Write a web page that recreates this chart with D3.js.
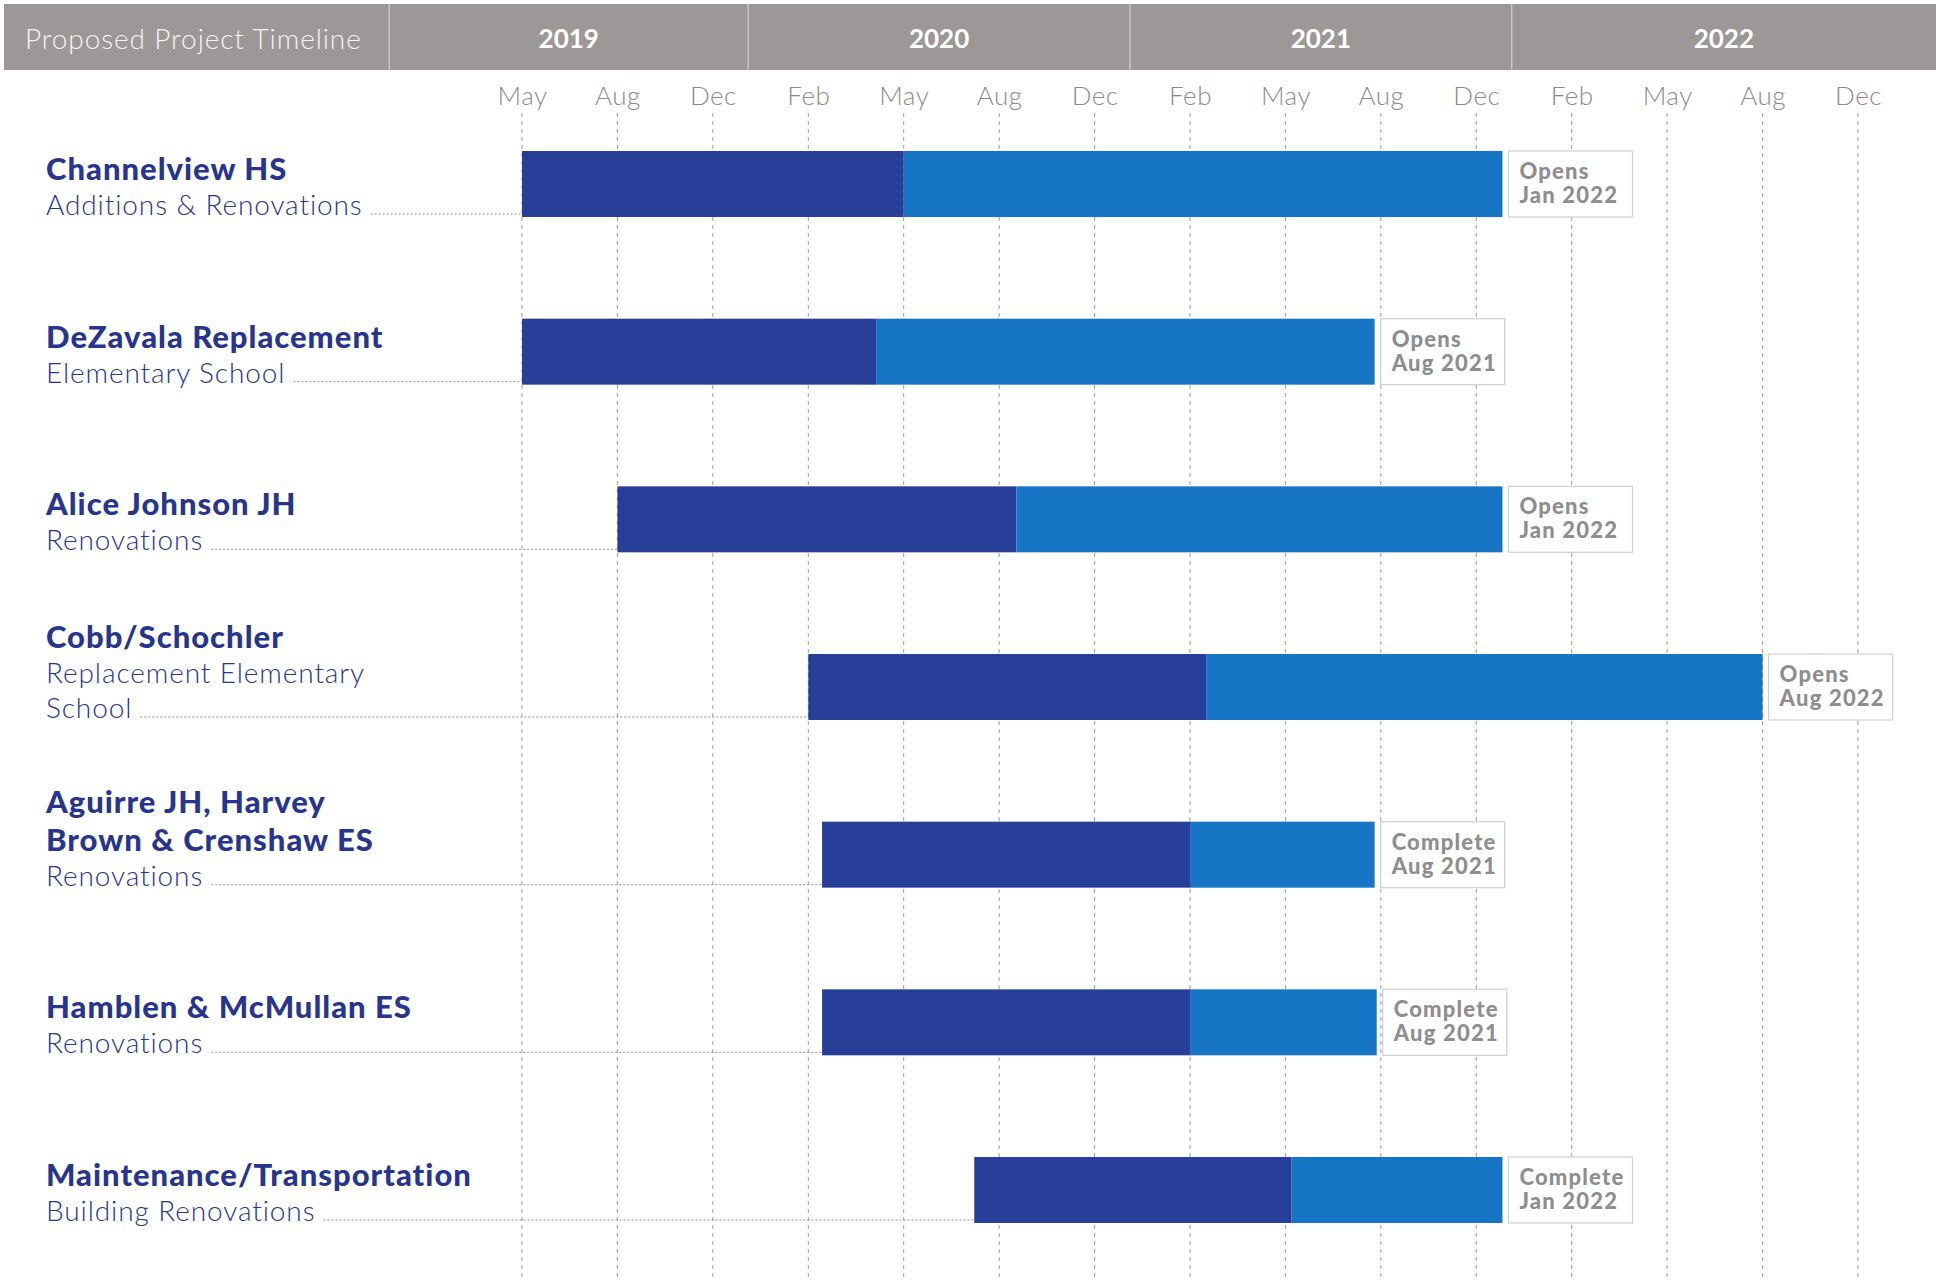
<!DOCTYPE html>
<html>
<head>
<meta charset="utf-8">
<script src="https://cdn.jsdelivr.net/npm/d3@7"></script>
<style>
    body { margin: 0; background: #fff; }
    text { font-family: Lato, "Open Sans", sans-serif; }
</style>
</head>
<body>
<div id="chart"></div>
<script>
// project rows, top to bottom
var projects = ["Channelview HS", "DeZavala Replacement", "Alice Johnson JH", "Cobb/Schochler",
    "Aguirre JH, Harvey Brown & Crenshaw ES", "Hamblen & McMullan ES", "Maintenance/Transportation"];
var titleLines = [["Channelview HS"], ["DeZavala Replacement"], ["Alice Johnson JH"], ["Cobb/Schochler"],
    ["Aguirre JH, Harvey", "Brown & Crenshaw ES"], ["Hamblen & McMullan ES"], ["Maintenance/Transportation"]];
var subLines = [["Additions & Renovations"], ["Elementary School"], ["Renovations"],
    ["Replacement Elementary", "School"], ["Renovations"], ["Renovations"], ["Building Renovations"]];

// dark segment = start -> split, light segment = split -> end
var startDates = ["2019-05-01", "2019-05-01", "2019-08-01", "2020-02-01", "2020-02-14", "2020-02-14", "2020-07-08"];
var splitDates = ["2020-05-01", "2020-04-05", "2020-08-23", "2021-02-16", "2021-02-01", "2021-02-01", "2021-05-07"];
var endDates = ["2021-12-18", "2021-07-26", "2021-12-18", "2022-08-01", "2021-07-26", "2021-07-28", "2021-12-18"];

var noteStatus = ["Opens", "Opens", "Opens", "Opens", "Complete", "Complete", "Complete"];
var noteDates = ["Jan 2022", "Aug 2021", "Jan 2022", "Aug 2022", "Aug 2021", "Aug 2021", "Jan 2022"];

// month ticks (spaced evenly on the original chart)
var tickDates = ["2019-05-01", "2019-08-01", "2019-12-01", "2020-02-01", "2020-05-01", "2020-08-01",
    "2020-12-01", "2021-02-01", "2021-05-01", "2021-08-01", "2021-12-01", "2022-02-01",
    "2022-05-01", "2022-08-01", "2022-12-01"];
var years = ["2019", "2020", "2021", "2022"];
var headerTitle = "Proposed Project Timeline";

var width = 1936;
var height = 1281;
var parse = d3.timeParse("%Y-%m-%d");

var svg = d3.select("#chart")
    .append("svg")
    .attr("width", width)
    .attr("height", height);

var ticks = tickDates.map(parse);
var xLeft = 522, xRight = 1858;
var x = d3.scaleTime()
    .domain(ticks)
    .range(ticks.map(function (d, i) {
        return xLeft + i * (xRight - xLeft) / (ticks.length - 1);
    }));

var y = d3.scalePoint()
    .domain(projects)
    .range([184, 1190]);

var barH = 66;

// header band
var header = svg.append("g");
header.append("rect")
    .attr("x", 4)
    .attr("y", 4)
    .attr("width", width - 4)
    .attr("height", 66)
    .attr("fill", "#9c9897");

// the year cells break a little before New Year on the original
var yearStarts = years.map(function (d) { return new Date(+d - 1, 11, 24); });
var bounds = yearStarts.map(function (d) { return x(d); });
bounds.push(width);

header.selectAll(".sep")
    .data(bounds.slice(0, -1))
    .enter().append("line")
    .attr("x1", function (d) { return d; })
    .attr("x2", function (d) { return d; })
    .attr("y1", 4)
    .attr("y2", 70)
    .attr("stroke", "#c9c6c4")
    .attr("stroke-width", 1.5);

header.append("text")
    .attr("x", 25)
    .attr("y", 49)
    .attr("fill", "#f4f4f4")
    .attr("font-size", "28px")
    .attr("font-weight", 300)
    .attr("letter-spacing", "0.9px")
    .text(headerTitle);

header.selectAll(".year")
    .data(years)
    .enter().append("text")
    .attr("x", function (d, i) { return (bounds[i] + bounds[i + 1]) / 2; })
    .attr("y", 48)
    .attr("text-anchor", "middle")
    .attr("fill", "#fff")
    .attr("font-size", "26px")
    .attr("font-weight", "bold")
    .text(function (d) { return d; });

// month axis with dashed gridlines
var axis = svg.append("g")
    .attr("transform", "translate(0,113)")
    .call(d3.axisTop(x)
        .tickValues(ticks)
        .tickFormat(d3.timeFormat("%b"))
        .tickSize(0)
        .tickPadding(8));
axis.select(".domain").remove();
axis.selectAll("text")
    .attr("font-family", "Lato, sans-serif")
    .attr("font-size", "26px")
    .attr("font-weight", 300)
    .attr("letter-spacing", "0.5px")
    .attr("fill", "#8a8a8a");

svg.append("g")
    .selectAll("line")
    .data(ticks)
    .enter().append("line")
    .attr("x1", function (d) { return x(d); })
    .attr("x2", function (d) { return x(d); })
    .attr("y1", 113)
    .attr("y2", height)
    .attr("stroke", "#9a9a9a")
    .attr("stroke-width", 1)
    .attr("stroke-dasharray", "4,4");

// rows
var rows = svg.append("g")
    .selectAll("g")
    .data(projects)
    .enter().append("g");

rows.each(function (p, i) {
    var g = d3.select(this);
    var top = y(p) - barH / 2;
    var bottom = top + barH;
    var x0 = x(parse(startDates[i]));
    var xm = x(parse(splitDates[i]));
    var x1 = x(parse(endDates[i]));

    // label block, stacked up from the bar bottom
    var lines = titleLines[i].map(function (t) { return { t: t, bold: true }; })
        .concat(subLines[i].map(function (t) { return { t: t, bold: false }; }));
    var base = bottom - 2;
    var pos = [];
    for (var k = lines.length - 1; k >= 0; k--) {
        pos[k] = base;
        if (k > 0) base -= (lines[k].bold && lines[k - 1].bold) ? 38 : 35;
    }
    var lastText;
    lines.forEach(function (l, k) {
        lastText = g.append("text")
            .attr("x", 46)
            .attr("y", pos[k])
            .attr("fill", "#28358f")
            .attr("font-size", l.bold ? "31px" : "28px")
            .attr("font-weight", l.bold ? 900 : 300)
            .attr("letter-spacing", l.bold ? "1px" : "0.9px")
            .text(l.t);
    });
    var textEnd = 46 + lastText.node().getBBox().width;

    // dotted leader
    g.append("line")
        .attr("x1", textEnd + 8)
        .attr("x2", x0)
        .attr("y1", bottom - 3)
        .attr("y2", bottom - 3)
        .attr("stroke", "#8d8d8d")
        .attr("stroke-width", 1)
        .attr("stroke-dasharray", "2,2");

    g.append("rect")
        .attr("x", x0)
        .attr("y", top)
        .attr("width", xm - x0)
        .attr("height", barH)
        .attr("fill", "#283f9a");
    g.append("rect")
        .attr("x", xm)
        .attr("y", top)
        .attr("width", x1 - xm)
        .attr("height", barH)
        .attr("fill", "#1675c4");

    // status box
    g.append("rect")
        .attr("x", x1 + 6)
        .attr("y", top)
        .attr("width", 124)
        .attr("height", barH)
        .attr("fill", "#fff")
        .attr("stroke", "#cfcfcf")
        .attr("stroke-width", 1.2);
    g.append("text")
        .attr("x", x1 + 17)
        .attr("y", top + 28)
        .attr("fill", "#8e8e8e")
        .attr("font-size", "22px")
        .attr("font-weight", 900)
        .attr("letter-spacing", "1.2px")
        .text(noteStatus[i]);
    g.append("text")
        .attr("x", x1 + 17)
        .attr("y", top + 52)
        .attr("fill", "#8e8e8e")
        .attr("font-size", "22px")
        .attr("font-weight", 900)
        .attr("letter-spacing", "1.2px")
        .text(noteDates[i]);
});
</script>
</body>
</html>
